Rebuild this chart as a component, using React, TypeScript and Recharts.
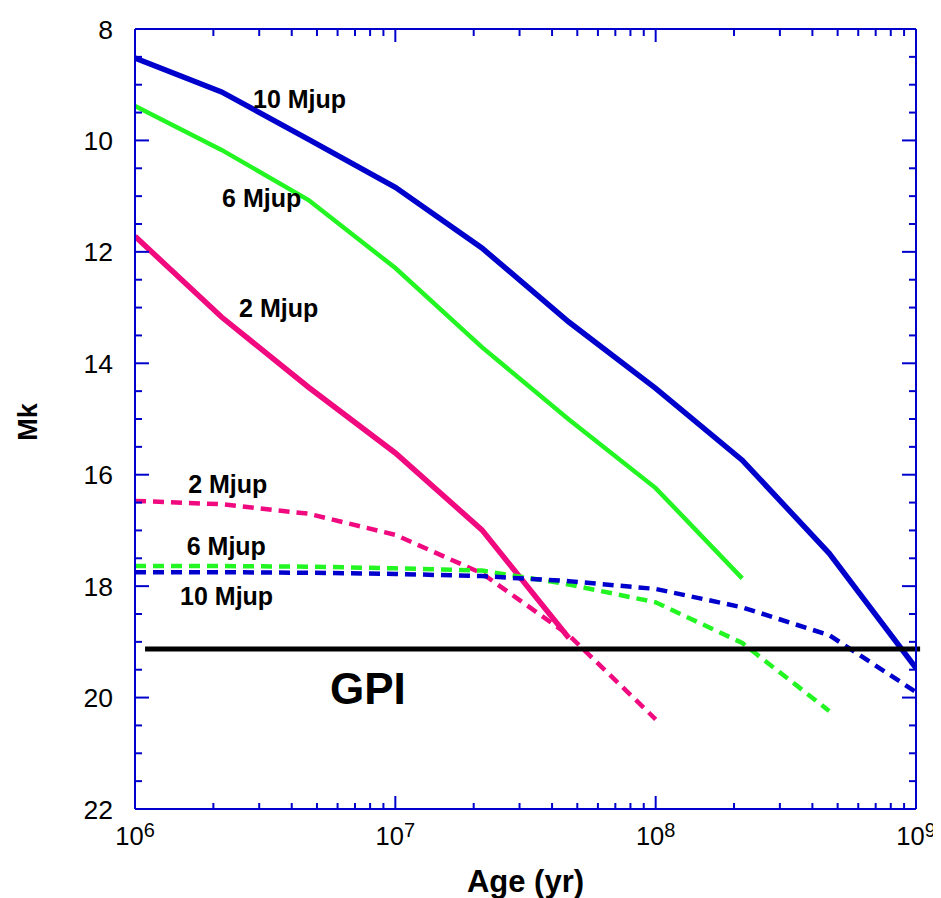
import React from "react";
import {
  LineChart,
  Line,
  XAxis,
  YAxis,
  ReferenceDot,
  ReferenceLine,
  Label,
} from "recharts";

// Model grid ages (yr), log-spaced by a third of a decade
const ages = [1e6, 2.15e6, 4.64e6, 1e7, 2.15e7, 4.64e7, 1e8, 2.15e8, 4.64e8, 1e9];

// Hot-start evolutionary tracks, absolute K magnitude
const hot10 = [8.52, 9.13, 9.98, 10.84, 11.93, 13.26, 14.45, 15.74, 17.41, 19.47];
const hot6 = [9.38, 10.17, 11.07, 12.29, 13.71, 15.01, 16.24, 17.86];
const hot2 = [11.72, 13.17, 14.43, 15.61, 16.99, 18.93];

// Cold-start (core accretion) tracks
const cold2 = [16.47, 16.53, 16.7, 17.08, 17.77, 18.88, 20.39];
const cold6 = [17.64, 17.64, 17.65, 17.68, 17.72, 17.97, 18.29, 19.02, 20.24];
const cold10 = [17.75, 17.75, 17.76, 17.78, 17.82, 17.91, 18.05, 18.38, 18.88, 19.9];

// GPI detection limit
const gpiLimit = 19.13;
const gpiSpan = [1.093e6, 1.037e9];

// Axis ticks
const yMajor = [8, 10, 12, 14, 16, 18, 20, 22];
const yMinorStep = 0.5;
const decades = [1e6, 1e7, 1e8, 1e9];
const minorMultipliers = [2, 3, 4, 5, 6, 7, 8, 9];

// Curve annotations
const curveLabels = [
  { text: "10 Mjup", age: 2.84e6, mk: 9.42 },
  { text: "6 Mjup", age: 2.16e6, mk: 11.2 },
  { text: "2 Mjup", age: 2.51e6, mk: 13.17 },
  { text: "2 Mjup", age: 1.6e6, mk: 16.33 },
  { text: "6 Mjup", age: 1.58e6, mk: 17.44 },
  { text: "10 Mjup", age: 1.49e6, mk: 18.34 },
];
const gpiLabel = { text: "GPI", age: 5.61e6, mk: 20.12 };

const AXIS = "#0000CC";
const BLUE = "#0000CC";
const GREEN = "#22F522";
const MAGENTA = "#F0097F";
const FONT = "'Liberation Sans', Arial, Helvetica, sans-serif";

const track = (vals: number[]) => vals.map((mk, i) => ({ age: ages[i], mk }));

const yTicks: number[] = [];
for (let v = yMajor[0]; v <= yMajor[yMajor.length - 1] + 1e-9; v += yMinorStep) yTicks.push(v);
const xTicks: number[] = [];
decades.forEach((d, i) => {
  xTicks.push(d);
  if (i < decades.length - 1) minorMultipliers.forEach((m) => xTicks.push(d * m));
});

const isMajorY = (v: number) => yMajor.includes(v);
const isDecade = (v: number) => decades.some((d) => Math.abs(d - v) < 1);

function LeftTick(props: any) {
  const { x, y, payload } = props;
  const v = payload.value;
  const major = isMajorY(v);
  return (
    <g>
      <line x1={x} y1={y} x2={x + (major ? 14 : 7)} y2={y} stroke={AXIS} strokeWidth={2} />
      {major && (
        <text x={x - 22} y={y} dy="0.36em" textAnchor="end" fontSize={26.5} fontFamily={FONT} fill="#000">
          {v}
        </text>
      )}
    </g>
  );
}

function RightTick(props: any) {
  const { x, y, payload } = props;
  const major = isMajorY(payload.value);
  return <line x1={x} y1={y} x2={x - (major ? 14 : 7)} y2={y} stroke={AXIS} strokeWidth={2} />;
}

function BottomTick(props: any) {
  const { x, y, payload } = props;
  const v = payload.value;
  const major = isDecade(v);
  const exp = Math.round(Math.log10(v));
  return (
    <g>
      <line x1={x} y1={y} x2={x} y2={y - (major ? 13 : 6)} stroke={AXIS} strokeWidth={2} />
      {major && (
        <text x={x} y={y + 36} textAnchor="middle" fontSize={25.5} fontFamily={FONT} fill="#000">
          <tspan>10</tspan>
          <tspan dy={-8.5} fontSize={20}>
            {exp}
          </tspan>
        </text>
      )}
    </g>
  );
}

function TopTick(props: any) {
  const { x, y, payload } = props;
  const major = isDecade(payload.value);
  return <line x1={x} y1={y} x2={x} y2={y + (major ? 13 : 7)} stroke={AXIS} strokeWidth={2} />;
}

const TextMark = (text: string, size: number) => (p: any) =>
  (
    <text x={p.cx} y={p.cy} fontSize={size} fontWeight="bold" fontFamily={FONT} fill="#000">
      {text}
    </text>
  );

export default function App() {
  return (
    <LineChart
      width={933}
      height={890}
      margin={{ top: 20, right: 24, bottom: 39, left: 67 }}
      style={{ background: "#fff" }}
    >
      <XAxis
        xAxisId="b"
        dataKey="age"
        type="number"
        scale="log"
        domain={[1e6, 1e9]}
        allowDataOverflow
        ticks={xTicks}
        interval={0}
        tickSize={0}
        tickMargin={0}
        tickLine={false}
        tick={<BottomTick />}
        axisLine={{ stroke: AXIS, strokeWidth: 2 }}
        height={50}
      >
        <Label
          content={(p: any) => {
            const vb = p.viewBox;
            return (
              <text
                x={vb.x + vb.width / 2}
                y={vb.y + 83}
                textAnchor="middle"
                fontSize={31}
                fontWeight="bold"
                fontFamily={FONT}
                fill="#000"
              >
                Age (yr)
              </text>
            );
          }}
        />
      </XAxis>
      <XAxis
        xAxisId="t"
        orientation="top"
        dataKey="age"
        type="number"
        scale="log"
        domain={[1e6, 1e9]}
        allowDataOverflow
        ticks={xTicks}
        interval={0}
        tickSize={0}
        tickMargin={0}
        tickLine={false}
        tick={<TopTick />}
        axisLine={{ stroke: AXIS, strokeWidth: 2 }}
        height={1}
      />
      <YAxis
        yAxisId="l"
        type="number"
        domain={[8, 22]}
        reversed
        allowDataOverflow
        ticks={yTicks}
        interval={0}
        tickSize={0}
        tickMargin={0}
        tickLine={false}
        tick={<LeftTick />}
        axisLine={{ stroke: AXIS, strokeWidth: 2 }}
        width={60}
      >
        <Label
          content={(p: any) => {
            const vb = p.viewBox;
            const cx = vb.x - 38;
            const cy = vb.y + vb.height / 2 + 3;
            return (
              <text
                x={cx}
                y={cy}
                transform={`rotate(-90 ${cx} ${cy})`}
                textAnchor="middle"
                fontSize={27}
                fontWeight="bold"
                fontFamily={FONT}
                fill="#000"
              >
                Mk
              </text>
            );
          }}
        />
      </YAxis>
      <YAxis
        yAxisId="r"
        orientation="right"
        type="number"
        domain={[8, 22]}
        reversed
        allowDataOverflow
        ticks={yTicks}
        interval={0}
        tickSize={0}
        tickMargin={0}
        tickLine={false}
        tick={<RightTick />}
        axisLine={{ stroke: AXIS, strokeWidth: 2 }}
        width={1}
      />

      <Line xAxisId="b" yAxisId="l" data={track(hot2)} dataKey="mk" stroke={MAGENTA} strokeWidth={5.5} dot={false} isAnimationActive={false} type="linear" />
      <Line xAxisId="b" yAxisId="l" data={track(hot6)} dataKey="mk" stroke={GREEN} strokeWidth={4.5} dot={false} isAnimationActive={false} type="linear" />
      <Line xAxisId="b" yAxisId="l" data={track(hot10)} dataKey="mk" stroke={BLUE} strokeWidth={5.5} dot={false} isAnimationActive={false} type="linear" />
      <Line xAxisId="b" yAxisId="l" data={track(cold2)} dataKey="mk" stroke={MAGENTA} strokeWidth={4.5} strokeDasharray="11 7" dot={false} isAnimationActive={false} type="linear" />
      <Line xAxisId="b" yAxisId="l" data={track(cold6)} dataKey="mk" stroke={GREEN} strokeWidth={4.5} strokeDasharray="11 7" dot={false} isAnimationActive={false} type="linear" />
      <Line xAxisId="b" yAxisId="l" data={track(cold10)} dataKey="mk" stroke={BLUE} strokeWidth={4.5} strokeDasharray="11 7" dot={false} isAnimationActive={false} type="linear" />

      <ReferenceLine
        xAxisId="b"
        yAxisId="l"
        segment={[
          { x: gpiSpan[0], y: gpiLimit },
          { x: gpiSpan[1], y: gpiLimit },
        ]}
        stroke="#000"
        strokeWidth={5}
        ifOverflow="visible"
      />

      {curveLabels.map((l, i) => (
        <ReferenceDot key={i} xAxisId="b" yAxisId="l" x={l.age} y={l.mk} r={0} shape={TextMark(l.text, 25)} />
      ))}
      <ReferenceDot xAxisId="b" yAxisId="l" x={gpiLabel.age} y={gpiLabel.mk} r={0} shape={TextMark(gpiLabel.text, 44)} />
    </LineChart>
  );
}
